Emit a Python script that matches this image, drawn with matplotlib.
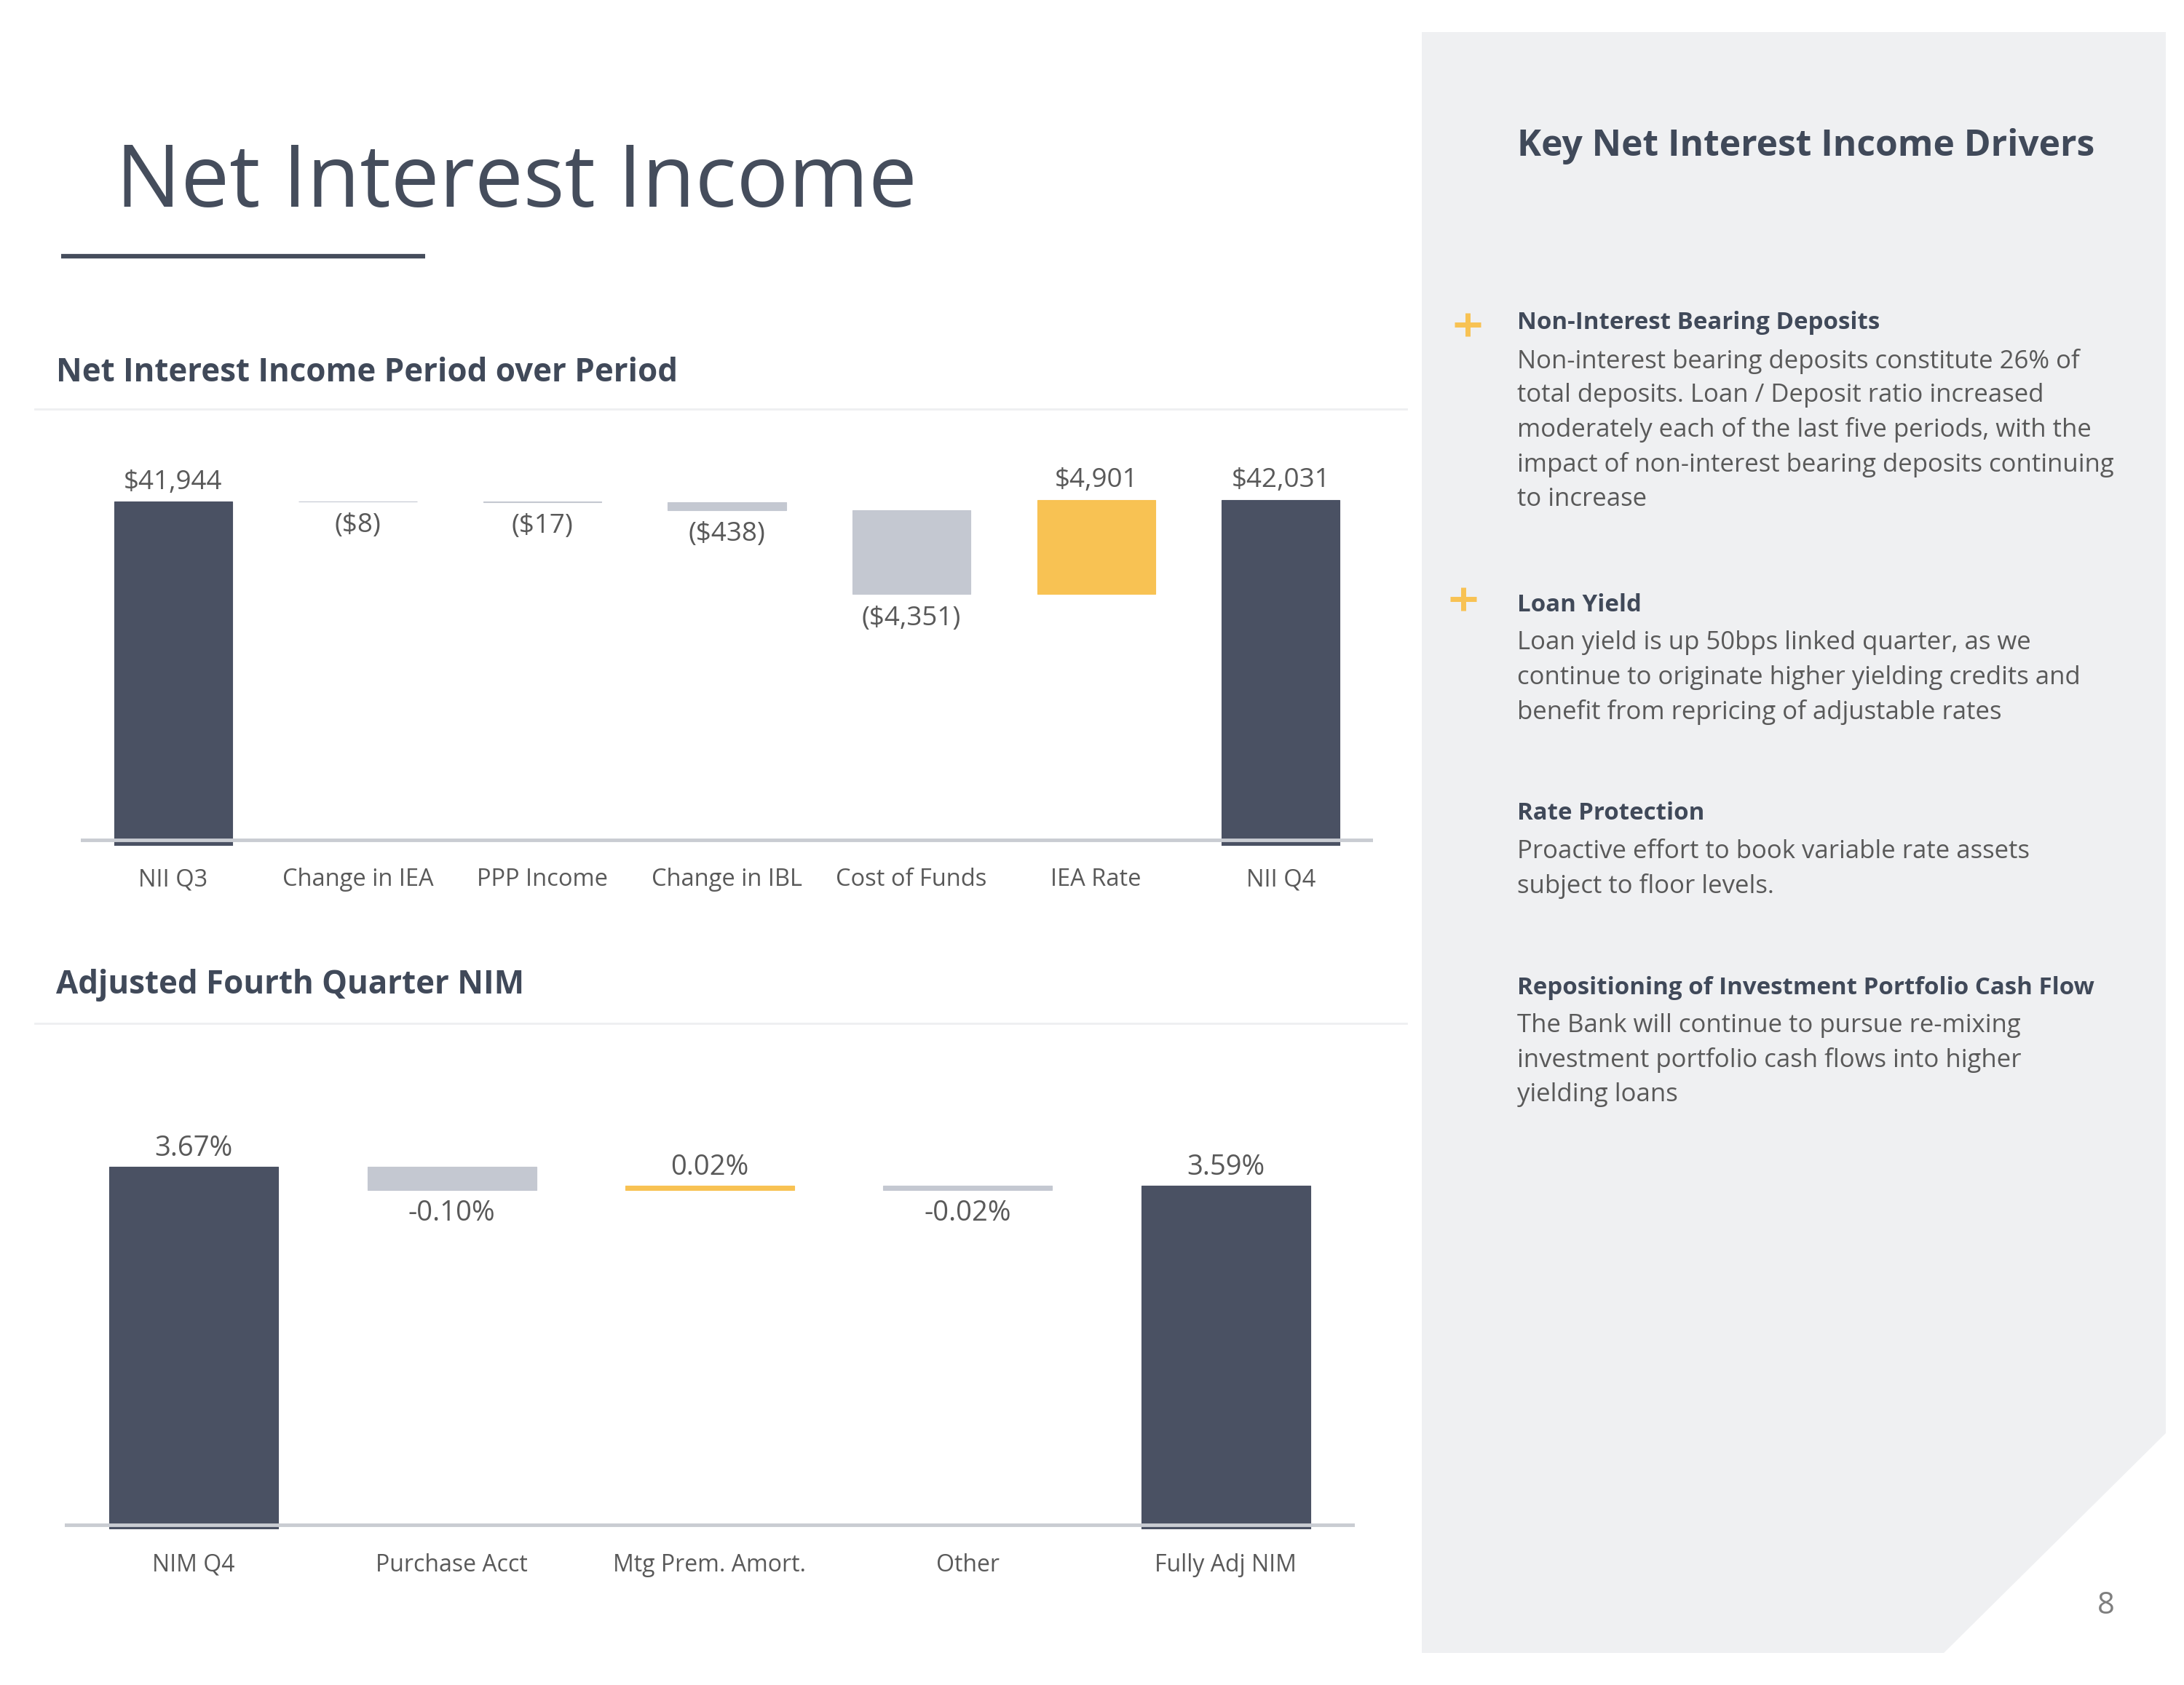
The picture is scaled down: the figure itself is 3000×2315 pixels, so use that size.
import matplotlib
matplotlib.use("Agg")
import matplotlib.pyplot as plt
from matplotlib.patches import Polygon

plt.rcParams['font.family'] = ['Open Sans', 'DejaVu Sans']

# ---- data ----
nii_labels = ["NII Q3", "Change in IEA", "PPP Income", "Change in IBL",
              "Cost of Funds", "IEA Rate", "NII Q4"]
nii_values = [41944, -8, -17, -438, -4351, 4901, 42031]
nii_text = ["$41,944", "($8)", "($17)", "($438)", "($4,351)", "$4,901", "$42,031"]

nim_labels = ["NIM Q4", "Purchase Acct", "Mtg Prem. Amort.", "Other", "Fully Adj NIM"]
nim_values = [3.67, -0.10, 0.02, -0.02, 3.59]
nim_text = ["3.67%", "-0.10%", "0.02%", "-0.02%", "3.59%"]

driver_heads = ["Non-Interest Bearing Deposits", "Loan Yield", "Rate Protection",
                "Repositioning of Investment Portfolio Cash Flow"]
driver_body = [
    ["Non-interest bearing deposits constitute 26% of",
     "total deposits. Loan / Deposit ratio increased",
     "moderately each of the last five periods, with the",
     "impact of non-interest bearing deposits continuing",
     "to increase"],
    ["Loan yield is up 50bps linked quarter, as we",
     "continue to originate higher yielding credits and",
     "benefit from repricing of adjustable rates"],
    ["Proactive effort to book variable rate assets",
     "subject to floor levels."],
    ["The Bank will continue to pursue re-mixing",
     "investment portfolio cash flows into higher",
     "yielding loans"],
]
driver_plus = [True, True, False, False]

# ---- style ----
W, H = 3000, 2315
DARK = "#4a5163"
GREY = "#c4c8d1"
YELLOW = "#f8c253"
AXIS = "#c9ccd2"
TXT = "#595959"
HEAD = "#404959"
PANEL = "#eff0f2"

fig = plt.figure(figsize=(W / 100, H / 100), dpi=100)
fig.patch.set_facecolor("white")

bg = fig.add_axes([0, 0, 1, 1])
bg.set_xlim(0, W)
bg.set_ylim(H, 0)
bg.axis("off")


def px_axes(x0, y0, x1, y1):
    a = fig.add_axes([x0 / W, 1 - y1 / H, (x1 - x0) / W, (y1 - y0) / H])
    a.patch.set_alpha(0)
    return a


# right panel
bg.add_patch(Polygon([(1953, 44), (2975, 44), (2975, 1969), (2670, 2271), (1953, 2271)],
                     closed=True, facecolor=PANEL, edgecolor="none"))
bg.text(2893, 2206, "8", fontsize=30, color="#7f7f7f", ha="center", va="center")

# title
bg.text(159, 253, "Net Interest Income", fontsize=85.5, color="#454d5c",
        fontweight="normal", ha="left", va="center")
bg.plot([84, 584], [352, 352], color="#454d5c", lw=4.5, solid_capstyle="butt")

# section headers
bg.text(77, 513, "Net Interest Income Period over Period", fontsize=31.6,
        color=HEAD, fontweight="bold", ha="left", va="center")
bg.plot([48, 1932], [562, 562], color="#eeeff1", lw=2)
bg.text(77, 1353, "Adjusted Fourth Quarter NIM", fontsize=31.6,
        color=HEAD, fontweight="bold", ha="left", va="center")
bg.plot([48, 1932], [1406, 1406], color="#eeeff1", lw=2)

# drivers panel
bg.text(2084, 201, "Key Net Interest Income Drivers", fontsize=35.8,
        color=HEAD, fontweight="bold", ha="left", va="center")
head_y = [444, 831, 1118, 1357]
plus_xy = [(2016, 446), (2010, 823)]
for i, (hd, body) in enumerate(zip(driver_heads, driver_body)):
    y = head_y[i]
    bg.text(2084, y, hd, fontsize=23.8, color=HEAD, fontweight="bold",
            ha="left", va="center")
    for j, line in enumerate(body):
        bg.text(2084, y + 52 + 47.5 * j, line, fontsize=25, color=TXT,
                ha="left", va="center")
    if driver_plus[i]:
        px, py = plus_xy[i]
        bg.plot([px - 18, px + 18], [py, py], color=YELLOW, lw=5, solid_capstyle="butt")
        bg.plot([px, px], [py - 16, py + 16], color=YELLOW, lw=5, solid_capstyle="butt")


def waterfall(ax, values, texts, labels, base, axis_val, up_off, down_off, width,
              val_size, cat_size):
    running = 0
    last = len(values) - 1
    for i, v in enumerate(values):
        if i == 0 or i == last:
            bottom, height, col = base, v - base, DARK
            running = v
            lab_y, off = v, up_off
        else:
            new = running + v
            bottom, height = min(running, new), abs(v)
            col = YELLOW if v > 0 else GREY
            if v > 0:
                lab_y, off = new, up_off
            else:
                lab_y, off = bottom, -down_off
            running = new
        ax.bar(i, height, bottom=bottom, width=width, color=col,
               edgecolor=col, linewidth=0.8, zorder=2)
        ax.annotate(texts[i], xy=(i, lab_y), xytext=(0, off), textcoords="offset points",
                    ha="center", va="center", fontsize=val_size, color=TXT)
    ax.axhline(axis_val, color=AXIS, lw=3.5, zorder=3)
    ax.set_xlim(-0.5, len(values) - 0.5)
    ax.set_xticks(range(len(values)))
    ax.set_xticklabels(labels, fontsize=cat_size, color=TXT)
    for s in ax.spines.values():
        s.set_visible(False)
    ax.set_yticks([])


# chart 1: NII waterfall
ax1 = px_axes(111, 560, 1886, 1162)
ax1.set_ylim(24050, 46820)
waterfall(ax1, nii_values, nii_text, nii_labels, base=24050, axis_val=24350,
          up_off=19, down_off=24, width=0.64, val_size=26.5, cat_size=23.5)
ax1.tick_params(axis="x", length=0, pad=33.5)
for t in ax1.get_xticklabels():
    t.set_va("center")

# chart 2: NIM waterfall
ax2 = px_axes(89, 1500, 1861, 2101)
ax2.set_ylim(2.114, 3.992)
waterfall(ax2, nim_values, nim_text, nim_labels, base=2.114, axis_val=2.1325,
          up_off=18, down_off=23, width=0.655, val_size=27.5, cat_size=23)
ax2.tick_params(axis="x", length=0, pad=35.5)
for t in ax2.get_xticklabels():
    t.set_va("center")

fig.savefig("out.png", dpi=100, facecolor="white")
